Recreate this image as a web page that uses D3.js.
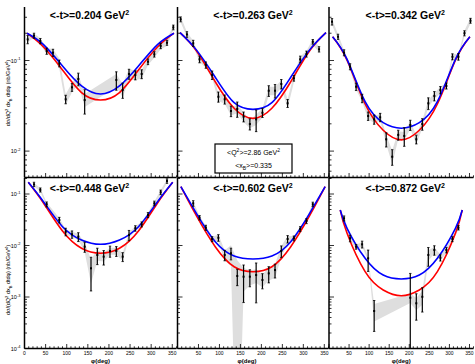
<!DOCTYPE html>
<html>
<head>
<meta charset="utf-8">
<script src="https://cdn.jsdelivr.net/npm/d3@7"></script>
<style>
body { margin: 0; background: #fff; }
text { font-family: "Liberation Sans", Arial, sans-serif; }
</style>
</head>
<body>
<div id="chart"></div>
<script>
const width = 475, height = 364;

// <-t> of each panel
const tValues = ["0.204", "0.263", "0.342", "0.448", "0.602", "0.872"];
const xTickValues = [0, 50, 100, 150, 200, 250, 300, 350];

// data points: [phi, value, stat error, syst error]
const pts204 = [[7.5,0.171,0.018,0.012],[22.5,0.188,0.012,0.010],[37.5,0.164,0.011,0.012],[52.5,0.127,0.010,0.010],
  [67.5,0.122,0.011,0.012],[82.5,0.0931,0.008,0.012],[97.5,0.0373,0.004,0.005],[112.5,0.0506,0.005,0.006],
  [127.5,0.0625,0.010,0.008],[142.5,0.0366,0.011,0.006],[217.5,0.0610,0.014,0.010],[232.5,0.0472,0.009,0.008],
  [247.5,0.0710,0.009,0.010],[262.5,0.0691,0.008,0.008],[277.5,0.0710,0.008,0.008],[292.5,0.0970,0.007,0.008],
  [307.5,0.117,0.008,0.010],[322.5,0.145,0.010,0.012],[337.5,0.157,0.010,0.012],[352.5,0.232,0.014,0.015]];
const pts263 = [[7.5,0.285,0.018,0.02],[22.5,0.194,0.014,0.012],[37.5,0.155,0.012,0.01],[52.5,0.103,0.0087,0.007],
  [67.5,0.0892,0.0072,0.006],[82.5,0.0691,0.0074,0.005],[97.5,0.0398,0.0051,0.004],[112.5,0.0373,0.0043,0.004],
  [127.5,0.0277,0.0037,0.003],[142.5,0.0292,0.0056,0.003],[157.5,0.0240,0.003,0.003],[172.5,0.0199,0.0028,0.002],
  [187.5,0.0224,0.006,0.003],[202.5,0.0265,0.003,0.003],[217.5,0.0464,0.0063,0.005],[232.5,0.0464,0.0079,0.005],
  [247.5,0.0551,0.0066,0.005],[262.5,0.0337,0.0034,0.004],[277.5,0.0637,0.0045,0.006],[292.5,0.103,0.0087,0.008],
  [307.5,0.118,0.009,0.009],[322.5,0.161,0.0094,0.012],[337.5,0.133,0.009,0.01]];
const pts342 = [[7.5,0.268,0.022,0.02],[22.5,0.183,0.012,0.012],[37.5,0.122,0.0093,0.009],[52.5,0.0855,0.0065,0.006],
  [67.5,0.0514,0.0048,0.004],[82.5,0.0383,0.0041,0.003],[97.5,0.0244,0.0026,0.002],[112.5,0.0224,0.0026,0.002],
  [127.5,0.0236,0.0025,0.002],[142.5,0.0135,0.0024,0.0015],[157.5,0.00867,0.0017,0.0015],[172.5,0.0151,0.0019,0.0015],
  [187.5,0.0147,0.0034,0.0015],[202.5,0.0194,0.0025,0.002],[217.5,0.0135,0.0015,0.0015],[232.5,0.0199,0.0029,0.002],
  [247.5,0.0337,0.005,0.003],[262.5,0.0406,0.0048,0.003],[277.5,0.0472,0.0044,0.004],[292.5,0.0524,0.004,0.004],
  [307.5,0.110,0.0084,0.008],[322.5,0.110,0.0092,0.008],[337.5,0.200,0.013,0.014],[352.5,0.275,0.017,0.02]];
const pts448 = [[22.5,0.154,0.015,0.012],[37.5,0.120,0.011,0.009],[52.5,0.0631,0.007,0.005],[82.5,0.0313,0.0039,0.003],
  [97.5,0.01853,0.0031,0.002],[112.5,0.01649,0.0027,0.002],[127.5,0.01483,0.0029,0.002],[142.5,0.00948,0.0021,0.002],
  [157.5,0.00361,0.0023,0.0018],[172.5,0.00655,0.0023,0.0015],[187.5,0.00607,0.0019,0.0012],[202.5,0.00782,0.0019,0.0012],
  [217.5,0.00782,0.0017,0.0012],[232.5,0.00607,0.0012,0.001],[247.5,0.0160,0.0036,0.002],[262.5,0.0216,0.0026,0.002],
  [277.5,0.0258,0.0029,0.003],[292.5,0.0391,0.0044,0.004],[307.5,0.0659,0.0068,0.006],[322.5,0.108,0.011,0.01],
  [337.5,0.179,0.018,0.015]];
const pts602 = [[37.5,0.0659,0.0083,0.006],[52.5,0.0347,0.0034,0.003],[67.5,0.0222,0.0025,0.002],[82.5,0.01337,0.0015,0.0015],
  [97.5,0.01416,0.0021,0.002],[112.5,0.00655,0.0015,0.0015],[127.5,0.00706,0.0018,0.003],[142.5,0.00256,0.0009,0.0026],
  [157.5,0.00248,0.0017,0.0012],[172.5,0.00248,0.0009,0.0008],[187.5,0.00267,0.0019,0.0008],[202.5,0.00214,0.0007,0.0006],
  [217.5,0.00288,0.001,0.0008],[232.5,0.00334,0.001,0.001],[247.5,0.00782,0.002,0.002],[262.5,0.01337,0.0022,0.002],
  [277.5,0.0138,0.0015,0.0015],[292.5,0.0209,0.0023,0.002],[307.5,0.0299,0.0033,0.003],[322.5,0.0631,0.0062,0.005]];
const pts872 = [[37.5,0.0337,0.0038,0.003],[52.5,0.0138,0.002,0.0015],[67.5,0.00948,0.001,0.001],[82.5,0.01054,0.0016,0.001],
  [97.5,0.00564,0.0025,0.0005],[112.5,0.000535,0.00032,0.0002],[202.5,0.000968,0.0019,0.0002],[217.5,0.000755,0.0004,0.0002],
  [232.5,0.00101,0.0005,0.0003],[247.5,0.00655,0.0026,0.0015],[262.5,0.00818,0.0017,0.0012],[277.5,0.00579,0.0008,0.0008],
  [292.5,0.00818,0.001,0.001],[307.5,0.01337,0.0015,0.0015],[322.5,0.0222,0.0022,0.002]];

// model curves: [phi, value]
const blue204 = [[6,0.200],[45,0.150],[90,0.0869],[135,0.0524],[180,0.0427],[225,0.0524],[270,0.0869],[315,0.150],[354,0.200]];
const red204  = [[6,0.200],[45,0.141],[90,0.0786],[135,0.0443],[180,0.0366],[225,0.0443],[270,0.0786],[315,0.141],[354,0.200]];
const blue263 = [[6,0.203],[45,0.131],[90,0.0653],[135,0.0342],[180,0.0289],[225,0.0342],[270,0.0653],[315,0.131],[354,0.203]];
const red263  = [[6,0.203],[45,0.128],[90,0.0583],[135,0.0297],[180,0.0230],[225,0.0297],[270,0.0583],[315,0.128],[354,0.203]];
const blue342 = [[9,0.183],[45,0.103],[90,0.0351],[135,0.0206],[180,0.0179],[225,0.0206],[270,0.0351],[315,0.103],[351,0.183]];
const red342  = [[9,0.183],[45,0.101],[90,0.0331],[135,0.0170],[180,0.0133],[225,0.0170],[270,0.0331],[315,0.101],[351,0.183]];
const blue448 = [[9,0.169],[45,0.0708],[90,0.0232],[135,0.0128],[180,0.01054],[225,0.0128],[270,0.0232],[315,0.0708],[351,0.169]];
const red448  = [[9,0.169],[45,0.0668],[90,0.0191],[135,0.00883],[180,0.00706],[225,0.00883],[270,0.0191],[315,0.0668],[351,0.169]];
const blue602 = [[8,0.1387],[45,0.0422],[90,0.01186],[135,0.00625],[180,0.00547],[225,0.00625],[270,0.01186],[315,0.0422],[352,0.1387]];
const red602  = [[8,0.1387],[45,0.0379],[90,0.00948],[135,0.00387],[180,0.00310],[225,0.00387],[270,0.00948],[315,0.0379],[352,0.1387]];
const blue872 = [[28,0.0489],[45,0.0216],[90,0.00564],[135,0.00267],[180,0.00224],[225,0.00267],[270,0.00564],[315,0.0216],[332,0.0489]];
const red872  = [[28,0.0489],[45,0.01726],[90,0.0031],[135,0.00137],[180,0.00106],[225,0.00137],[270,0.0031],[315,0.01726],[332,0.0489]];

const panels = [
  {t: tValues[0], pts: pts204, blue: blue204, red: red204},
  {t: tValues[1], pts: pts263, blue: blue263, red: red263},
  {t: tValues[2], pts: pts342, blue: blue342, red: red342},
  {t: tValues[3], pts: pts448, blue: blue448, red: red448},
  {t: tValues[4], pts: pts602, blue: blue602, red: red602},
  {t: tValues[5], pts: pts872, blue: blue872, red: red872}
];

// layout
const colX = [[24.5, 176.5], [177.5, 328.5], [329, 473.5]];
const rowY = [[7, 177.5], [178, 348.5]];
const titleShift = [-11, 0, 4];
const xTitleShift = [0, -6, 0];

const yScales = [
  d3.scaleLog().domain([0.01, 0.1]).range([151.1, 60.5]),
  d3.scaleLog().domain([1e-4, 1e-1]).range([348.5, 194])
];

const svg = d3.select("#chart").append("svg")
    .attr("width", width)
    .attr("height", height);

const defs = svg.append("defs");

panels.forEach(function(p, i) {
  const col = i % 3, row = Math.floor(i / 3);
  const [x0, x1] = colX[col];
  const [y0, y1] = rowY[row];
  const x = d3.scaleLinear().domain([0, 360]).range([x0, x1]);
  const y = yScales[row];
  const floor = 1e-7;

  defs.append("clipPath").attr("id", "clip" + i)
    .append("rect").attr("x", x0).attr("y", y0).attr("width", x1 - x0).attr("height", y1 - y0);

  const g = svg.append("g");
  const plot = g.append("g").attr("clip-path", "url(#clip" + i + ")");

  // systematic band
  const band = d3.area()
      .x(d => x(d[0]))
      .y0(d => y(Math.max(d[1] - d[3], floor)))
      .y1(d => y(d[1] + d[3]));
  plot.append("path").datum(p.pts)
      .attr("d", band)
      .attr("fill", "#dedede");

  // model curves
  const line = d3.line().x(d => x(d[0])).y(d => y(d[1])).curve(d3.curveNatural);
  plot.append("path").datum(p.red).attr("d", line)
      .attr("fill", "none").attr("stroke", "#ff0000").attr("stroke-width", 1.6);
  plot.append("path").datum(p.blue).attr("d", line)
      .attr("fill", "none").attr("stroke", "#0000ff").attr("stroke-width", 1.6);

  // error bars
  const bars = plot.selectAll(".bar").data(p.pts).enter().append("g");
  bars.append("line")
      .attr("x1", d => x(d[0])).attr("x2", d => x(d[0]))
      .attr("y1", d => y(Math.max(d[1] - d[2], floor)))
      .attr("y2", d => y(d[1] + d[2]))
      .attr("stroke", "#000").attr("stroke-width", 1.2);
  bars.append("line")
      .attr("x1", d => x(d[0]) - 1.2).attr("x2", d => x(d[0]) + 1.2)
      .attr("y1", d => y(d[1] + d[2])).attr("y2", d => y(d[1] + d[2]))
      .attr("stroke", "#000").attr("stroke-width", 0.8);
  bars.append("line")
      .attr("x1", d => x(d[0]) - 1.2).attr("x2", d => x(d[0]) + 1.2)
      .attr("y1", d => y(Math.max(d[1] - d[2], floor))).attr("y2", d => y(Math.max(d[1] - d[2], floor)))
      .attr("stroke", "#000").attr("stroke-width", 0.8);
  bars.append("rect")
      .attr("x", d => x(d[0]) - 1).attr("y", d => y(d[1]) - 1)
      .attr("width", 2).attr("height", 2).attr("fill", "#000");

  // x ticks
  const minor = d3.range(0, 361, 10);
  g.selectAll(".xt").data(minor).enter().append("line")
      .attr("x1", d => x(d)).attr("x2", d => x(d))
      .attr("y1", y1).attr("y2", d => y1 - (d % 50 === 0 ? 4.5 : 2.2))
      .attr("stroke", "#000").attr("stroke-width", 0.8);

  // y ticks (log)
  const yTicks = [];
  for (let e = -5; e <= 0; e++) {
    for (let m = 1; m <= 9; m++) {
      const v = m * Math.pow(10, e);
      const py = y(v);
      if (py >= y0 && py <= y1 + 0.5) yTicks.push({v: v, m: m, e: e, py: py});
    }
  }
  g.selectAll(".yt").data(yTicks).enter().append("line")
      .attr("x1", x0).attr("x2", d => x0 + (d.m === 1 ? 5 : 2.5))
      .attr("y1", d => d.py).attr("y2", d => d.py)
      .attr("stroke", "#000").attr("stroke-width", 0.8);

  if (col === 0) {
    const lab = g.selectAll(".yl").data(yTicks.filter(d => d.m === 1)).enter().append("text")
        .attr("x", x0 - 4).attr("y", d => d.py + 2)
        .attr("text-anchor", "end")
        .attr("font-size", 5.5);
    lab.append("tspan").text("10");
    lab.append("tspan").attr("dy", -2.5).attr("font-size", 4).text(d => d.e);
  }

  if (row === 1) {
    const labs = col === 0 ? xTickValues : xTickValues.slice(1);
    g.selectAll(".xl").data(labs).enter().append("text")
        .attr("x", d => x(d)).attr("y", y1 + 6.5)
        .attr("text-anchor", "middle")
        .attr("font-size", 5)
        .text(d => d);
    g.append("text")
        .attr("x", (x0 + x1) / 2 + xTitleShift[col]).attr("y", height - 1)
        .attr("text-anchor", "middle")
        .attr("font-size", 6).attr("font-weight", "bold")
        .text("φ(deg)");
  }

  // axis lines
  g.append("line").attr("x1", x0).attr("x2", x0).attr("y1", y0).attr("y2", y1)
      .attr("stroke", "#000").attr("stroke-width", 1.5);
  g.append("line").attr("x1", x0).attr("x2", x1).attr("y1", y1).attr("y2", y1)
      .attr("stroke", "#000").attr("stroke-width", 1.5);

  // title
  const title = g.append("text")
      .attr("x", (x0 + x1) / 2 + titleShift[col])
      .attr("y", y0 + (row === 0 ? 11.5 : 14))
      .attr("text-anchor", "middle")
      .attr("font-size", 10.5).attr("font-weight", "bold");
  title.append("tspan").text("<-t>=" + p.t + " GeV");
  title.append("tspan").attr("dy", -4).attr("font-size", 7).text("2");
});

// y axis titles
const yTitles = [
  {y: 93, txt: ["dσ/dQ", "2", " dx", "B", " dtdφ (nb/GeV", "4", ")"]},
  {y: 280, txt: ["dσ/(dQ", "2", " dx", "B", " dtdφ) (nb/GeV", "4", ")"]}
];
yTitles.forEach(function(t) {
  const tx = svg.append("text")
      .attr("transform", "translate(10," + t.y + ") rotate(-90)")
      .attr("text-anchor", "middle")
      .attr("font-size", 5.5);
  t.txt.forEach(function(s, k) {
    const sp = tx.append("tspan").text(s);
    if (k === 1 || k === 5) sp.attr("dy", -2).attr("font-size", 4);
    if (k === 2 || k === 6) sp.attr("dy", 2);
    if (k === 3) sp.attr("dy", 1.5).attr("font-size", 4);
    if (k === 4) sp.attr("dy", -1.5);
  });
});

// legend box
const q2 = "2.86", xB = "0.335";
svg.append("rect").attr("x", 215).attr("y", 144).attr("width", 77).attr("height", 29)
    .attr("fill", "#fff").attr("stroke", "#000").attr("stroke-width", 1.2);
const l1 = svg.append("text").attr("x", 253.5).attr("y", 155).attr("text-anchor", "middle").attr("font-size", 7);
l1.append("tspan").text("<Q");
l1.append("tspan").attr("dy", -3).attr("font-size", 5).text("2");
l1.append("tspan").attr("dy", 3).text(">=" + q2 + " GeV");
l1.append("tspan").attr("dy", -3).attr("font-size", 5).text("2");
const l2 = svg.append("text").attr("x", 253.5).attr("y", 168).attr("text-anchor", "middle").attr("font-size", 7);
l2.append("tspan").text("<x");
l2.append("tspan").attr("dy", 2).attr("font-size", 5).text("B");
l2.append("tspan").attr("dy", -2).text(">=" + xB);
</script>
</body>
</html>
